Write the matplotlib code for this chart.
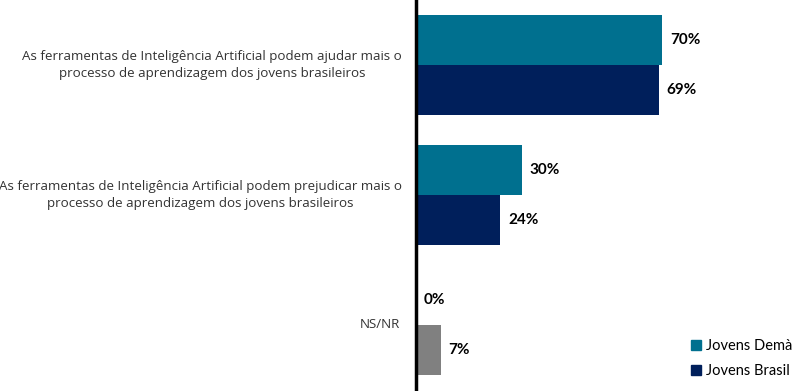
import numpy as np
import matplotlib.pyplot as plt
from matplotlib.patches import Patch

categories = [
    'As ferramentas de Inteligência Artificial podem ajudar mais o\nprocesso de aprendizagem dos jovens brasileiros',
    'As ferramentas de Inteligência Artificial podem prejudicar mais o\nprocesso de aprendizagem dos jovens brasileiros',
    'NS/NR',
]
jovens_dema = [70, 30, 0]
jovens_brasil = [69, 24, 7]
series_names = ['Jovens Demà', 'Jovens Brasil']

TEAL = '#00708f'
NAVY = '#001f5b'
GRAY = '#808080'

plt.rcParams['font.family'] = ['Lato', 'DejaVu Sans']

fig = plt.figure(figsize=(7.96, 3.91), dpi=100)
ax = fig.add_axes([416 / 796, 0, 1 - 416 / 796, 1])

y = np.arange(len(categories))
h = 0.385
off = 0.193
brasil_colors = [NAVY, NAVY, GRAY]

ax.barh(y - off, jovens_dema, height=h, color=TEAL)
ax.barh(y + off, jovens_brasil, height=h, color=brasil_colors)

for yi, v in zip(y - off, jovens_dema):
    ax.text(v + 2.2, yi, '%d%%' % v, va='center', ha='left',
            fontsize=11, fontweight='bold', color='black')
for yi, v in zip(y + off, jovens_brasil):
    ax.text(v + 2.2, yi, '%d%%' % v, va='center', ha='left',
            fontsize=11, fontweight='bold', color='black')

ax.set_xlim(0, 108)
ax.set_ylim(2.508, -0.5)

for s in ['top', 'right', 'bottom']:
    ax.spines[s].set_visible(False)
ax.spines['left'].set_linewidth(2.5)
ax.spines['left'].set_color('black')
ax.set_xticks([])
ax.set_yticks([])

# category labels, centered block to the left of the axis
label_y = [0.0, 1.0, 2.0]
for yi, lab in zip(label_y, categories):
    if '\n' in lab:
        ax.text(-4.0, yi, lab, ha='right', va='center', multialignment='center',
                fontsize=9.6, color='#333333', linespacing=1.35,
                family=['Open Sans', 'DejaVu Sans'], clip_on=False)
    else:
        ax.text(-4.5, yi, lab, ha='right', va='center',
                fontsize=9.6, color='#333333',
                family=['Open Sans', 'DejaVu Sans'], clip_on=False)

handles = [Patch(color=TEAL), Patch(color=NAVY)]
ax.legend(handles, series_names, loc='lower right', frameon=False,
          fontsize=10.5, handlelength=0.7, handleheight=0.7, handletextpad=0.35,
          labelspacing=0.75, bbox_to_anchor=(1.025, 0.0))

fig.savefig('out.png', dpi=100)
